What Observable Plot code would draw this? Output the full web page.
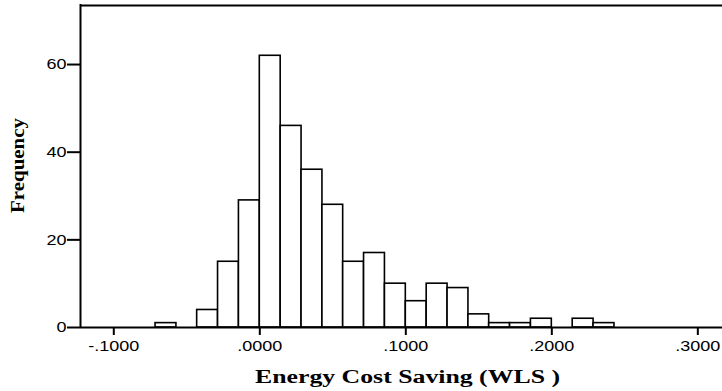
<!DOCTYPE html>
<html>
<head>
<meta charset="utf-8">
<script src="https://cdn.jsdelivr.net/npm/d3@7"></script>
<script src="https://cdn.jsdelivr.net/npm/@observablehq/plot@0.6"></script>
<style>
  html, body { margin: 0; padding: 0; background: #fff; overflow: hidden; }
  #chart svg { display: block; }
</style>
</head>
<body>
<div id="chart"></div>
<script>
// Histogram bin edges (value of energy cost saving)
const binEdges = [-0.0714, -0.0571, -0.0429, -0.0286, -0.0143, 0.0000, 0.0143, 0.0286, 0.0429, 0.0571, 0.0714, 0.0857, 0.1000, 0.1143, 0.1286, 0.1429, 0.1571, 0.1714, 0.1857, 0.2000, 0.2143, 0.2286, 0.2429];
// Frequency per bin
const counts = [1, 0, 4, 15, 29, 62, 46, 36, 28, 15, 17, 10, 6, 10, 9, 3, 1, 1, 2, 0, 2, 1];
// Axis ticks
const xTicks = [-0.1, 0, 0.1, 0.2, 0.3];
const xTickLabels = ["-.1000", ".0000", ".1000", ".2000", ".3000"];
const yTicks = [0, 20, 40, 60];
const xTitle = "Energy Cost Saving (WLS )";
const yTitle = "Frequency";

const xDomain = [-0.1228, 0.3169];
const yDomain = [0, 73.7];

const bins = counts.map((c, i) => ({x1: binEdges[i], x2: binEdges[i + 1], count: c})).filter(d => d.count > 0);
const labelMap = new Map(xTicks.map((t, i) => [t, xTickLabels[i]]));

const plot = Plot.plot({
  width: 722,
  height: 391,
  marginLeft: 80,
  marginRight: 0,
  marginTop: 4,
  marginBottom: 64,
  style: {fontFamily: "'Liberation Sans', Arial, sans-serif", fontSize: "15px", color: "#000", background: "#fff"},
  x: {domain: xDomain},
  y: {domain: yDomain},
  marks: [
    Plot.rectY(bins, {x1: "x1", x2: "x2", y1: 0, y2: "count", fill: "white", stroke: "black", strokeWidth: 1.6, insetLeft: 0, insetRight: 0}),
    Plot.axisX({ticks: xTicks, tickSize: 8, tickPadding: 5, tickFormat: d => labelMap.get(d), label: null, strokeWidth: 2, fontSize: 15}),
    Plot.axisY({ticks: yTicks, tickSize: 13, tickPadding: 1, tickFormat: d => String(d), label: null, strokeWidth: 2, fontSize: 15}),
    Plot.ruleY([0], {strokeWidth: 2}),
    Plot.ruleY([yDomain[1]], {strokeWidth: 2.2, dy: 1}),
    Plot.ruleX([xDomain[0]], {strokeWidth: 2})
  ]
});

// stretch tick labels horizontally to match reference
plot.querySelectorAll('g[aria-label$="tick label"] text').forEach(t => {
  const tr = t.getAttribute("transform");
  if (tr) {
    t.setAttribute("transform", tr + " scale(1.2,1)");
  } else {
    const x = +t.getAttribute("x") || 0, y = +t.getAttribute("y") || 0;
    t.removeAttribute("x"); t.removeAttribute("y");
    t.setAttribute("transform", `translate(${x},${y}) scale(1.2,1)`);
  }
});

const svg = d3.select(plot);
svg.append("text")
  .attr("x", 255).attr("y", 383)
  .attr("text-anchor", "start")
  .attr("font-family", "'Liberation Serif', 'Times New Roman', serif")
  .attr("font-weight", "bold").attr("font-size", 18)
  .attr("textLength", 305).attr("lengthAdjust", "spacingAndGlyphs")
  .attr("fill", "black")
  .text(xTitle);
svg.append("text")
  .attr("transform", "translate(24,213) rotate(-90)")
  .attr("text-anchor", "start")
  .attr("font-family", "'Liberation Serif', 'Times New Roman', serif")
  .attr("font-weight", "bold").attr("font-size", 18)
  .attr("textLength", 95).attr("lengthAdjust", "spacingAndGlyphs")
  .attr("fill", "black")
  .text(yTitle);

document.getElementById("chart").appendChild(plot);
</script>
</body>
</html>
